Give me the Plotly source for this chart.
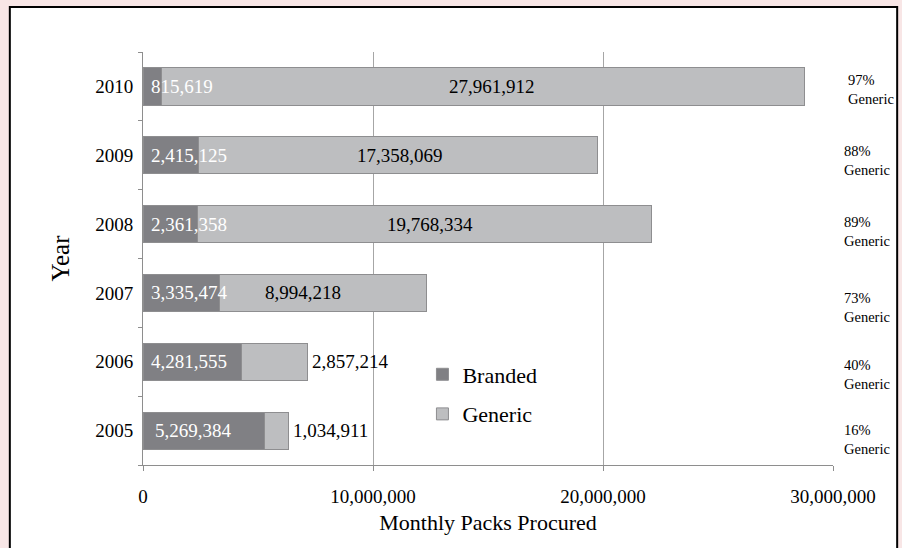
import plotly.graph_objects as go

years = ["2005", "2006", "2007", "2008", "2009", "2010"]
branded = [5269384, 4281555, 3335474, 2361358, 2415125, 815619]
generic = [1034911, 2857214, 8994218, 19768334, 17358069, 27961912]
pct_generic = ["16%", "40%", "73%", "89%", "88%", "97%"]
x_ticks = [0, 10000000, 20000000, 30000000]

FONT = "Liberation Serif"
BRANDED_C = "#808084"
GENERIC_C = "#bdbec0"
EDGE_C = "#8e8e90"

fig = go.Figure()
fig.add_trace(go.Bar(y=years, x=branded, orientation="h", name="Branded",
                     marker=dict(color=BRANDED_C, line=dict(color=EDGE_C, width=1)),
                     legendgroup="b"))
fig.add_trace(go.Bar(y=years, x=generic, orientation="h", name="Generic",
                     marker=dict(color=GENERIC_C, line=dict(color=EDGE_C, width=1)),
                     legendgroup="g"))

# value labels (y given as category index: "2005" would be read as index 2005)
gen_shift = [0, 0, -20, 5, 2, 9]  # nudges to match the original placement
for i, yr in enumerate(years):
    fig.add_annotation(x=0, y=i, text=f"{branded[i]:,}", showarrow=False,
                       xanchor="left", xshift=6 if i > 0 else 10,
                       font=dict(family=FONT, size=19, color="white"))
    total = branded[i] + generic[i]
    if generic[i] > 5000000:
        fig.add_annotation(x=branded[i] + generic[i] / 2, y=i, text=f"{generic[i]:,}",
                           showarrow=False, xanchor="center", xshift=gen_shift[i],
                           font=dict(family=FONT, size=19, color="black"))
    else:
        fig.add_annotation(x=total, y=i, text=f"{generic[i]:,}", showarrow=False,
                           xanchor="left", xshift=3,
                           font=dict(family=FONT, size=19, color="black"))

# % generic notes on the right
note_shift = [-9, -13, -15, -7, -5, -3]
for i, yr in enumerate(years):
    fig.add_annotation(x=1.013 if i < 5 else 1.019, xref="paper", y=i, yref="y",
                       text=f"{pct_generic[i]}<br>Generic", showarrow=False,
                       xanchor="left", align="left", yshift=note_shift[i],
                       font=dict(family=FONT, size=14.5, color="black"))

# white chart box with black border
fig.add_shape(type="rect", xref="paper", yref="paper",
              x0=-0.193, x1=1.093, y0=-0.25, y1=1.109,
              line=dict(color="black", width=2), fillcolor="white", layer="below")

fig.update_layout(
    barmode="stack",
    bargap=0.46,
    width=902, height=548,
    margin=dict(l=143, r=69, t=52, b=83, autoexpand=False),
    paper_bgcolor="#f8e6e6",
    plot_bgcolor="white",
    font=dict(family=FONT, color="black"),
    legend=dict(x=0.405, y=0.27, xanchor="left", yanchor="top",
                bgcolor="rgba(0,0,0,0)", font=dict(size=22, family=FONT),
                traceorder="grouped", tracegroupgap=8),
    xaxis=dict(range=[0, 30000000], tickvals=x_ticks,
               ticktext=[f"{v:,}" for v in x_ticks],
               showgrid=True, gridcolor="#a6a6a6", gridwidth=1,
               showline=True, linecolor="#8e8e8e", linewidth=1,
               ticks="outside", ticklen=5, tickcolor="#8e8e8e",
               tickfont=dict(size=19, family=FONT), ticklabelstandoff=9,
               zeroline=False, automargin=False,
               title=dict(text="Monthly Packs Procured", font=dict(size=22, family=FONT),
                          standoff=8)),
    yaxis=dict(type="category", categoryorder="array", categoryarray=years,
               range=[-0.5, 5.5],
               showline=True, linecolor="#8e8e8e", linewidth=1,
               ticks="outside", ticklen=4, tickcolor="#8e8e8e", tickson="boundaries",
               tickfont=dict(size=19, family=FONT), ticklabelstandoff=5,
               showgrid=False, automargin=False,
               title=dict(text="Year", font=dict(size=25, family=FONT), standoff=18)),
)

fig.write_html("out.html", config={"displayModeBar": False},
               post_script="document.body.style.margin='0';")
